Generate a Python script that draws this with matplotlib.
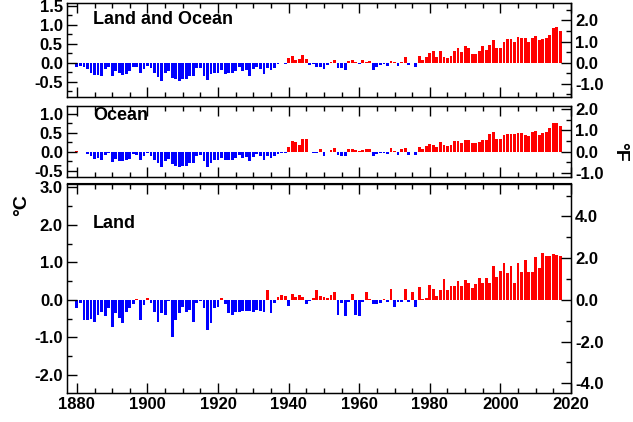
import numpy as np
import matplotlib
matplotlib.use('Agg')
import matplotlib.pyplot as pyp
from matplotlib.ticker import MultipleLocator, FormatStrFormatter

pyp.rcParams['font.family'] = ['Liberation Sans', 'DejaVu Sans']
pyp.rcParams['font.weight'] = 'bold'

years = np.arange(1880, 2018)

# annual anomalies (deg C)
land_ocean = [
  -0.12, -0.09, -0.10, -0.17, -0.28, -0.32, -0.31, -0.36, -0.17, -0.10,
  -0.35, -0.22, -0.27, -0.31, -0.30, -0.22, -0.11, -0.11, -0.27, -0.17,
  -0.08, -0.15, -0.28, -0.37, -0.47, -0.26, -0.22, -0.39, -0.43, -0.48,
  -0.43, -0.44, -0.36, -0.34, -0.15, -0.14, -0.36, -0.46, -0.30, -0.27,
  -0.27, -0.19, -0.29, -0.27, -0.27, -0.22, -0.11, -0.22, -0.20, -0.36,
  -0.16, -0.10, -0.16, -0.29, -0.13, -0.20, -0.15, -0.03, -0.01, -0.02,
  0.13, 0.19, 0.07, 0.09, 0.20, 0.09, -0.07, -0.03, -0.11, -0.11,
  -0.17, -0.07, 0.01, 0.08, -0.13, -0.14, -0.19, 0.05, 0.06, 0.03,
  -0.03, 0.06, 0.03, 0.05, -0.20, -0.11, -0.06, -0.02, -0.08, 0.05,
  0.03, -0.08, 0.01, 0.16, -0.07, -0.01, -0.10, 0.18, 0.07, 0.16,
  0.26, 0.32, 0.14, 0.31, 0.16, 0.12, 0.18, 0.32, 0.39, 0.27,
  0.45, 0.40, 0.22, 0.23, 0.31, 0.44, 0.33, 0.46, 0.61, 0.38,
  0.39, 0.54, 0.63, 0.62, 0.54, 0.68, 0.64, 0.66, 0.54, 0.64,
  0.71, 0.60, 0.63, 0.65, 0.74, 0.91, 0.95, 0.84]

ocean = [
  0.01, -0.01, -0.02, -0.06, -0.13, -0.19, -0.17, -0.22, -0.09, -0.05,
  -0.28, -0.20, -0.24, -0.24, -0.22, -0.19, -0.07, -0.08, -0.22, -0.13,
  -0.04, -0.12, -0.21, -0.31, -0.40, -0.24, -0.20, -0.32, -0.39, -0.41,
  -0.37, -0.39, -0.30, -0.29, -0.13, -0.09, -0.26, -0.40, -0.29, -0.22,
  -0.23, -0.16, -0.23, -0.23, -0.22, -0.18, -0.09, -0.17, -0.15, -0.26,
  -0.14, -0.07, -0.13, -0.22, -0.12, -0.16, -0.13, -0.06, -0.05, -0.03,
  0.12, 0.27, 0.24, 0.18, 0.32, 0.32, -0.02, -0.04, -0.03, 0.08,
  -0.13, 0.00, 0.05, 0.10, -0.10, -0.13, -0.13, 0.08, 0.08, 0.05,
  0.02, 0.05, 0.06, 0.06, -0.12, -0.07, -0.04, -0.03, -0.06, 0.10,
  0.01, -0.09, 0.07, 0.10, -0.09, -0.01, -0.09, 0.13, 0.07, 0.14,
  0.19, 0.17, 0.12, 0.26, 0.17, 0.14, 0.17, 0.29, 0.29, 0.22,
  0.31, 0.31, 0.22, 0.23, 0.24, 0.31, 0.30, 0.45, 0.51, 0.33,
  0.34, 0.43, 0.47, 0.47, 0.45, 0.50, 0.48, 0.43, 0.40, 0.51,
  0.53, 0.44, 0.48, 0.51, 0.61, 0.74, 0.75, 0.67]

land = [
  -0.22, -0.09, -0.53, -0.53, -0.52, -0.60, -0.40, -0.33, -0.44, -0.22,
  -0.71, -0.36, -0.49, -0.62, -0.31, -0.22, -0.11, 0.02, -0.53, -0.13,
  0.06, -0.09, -0.31, -0.58, -0.36, -0.40, -0.02, -1.00, -0.53, -0.36,
  -0.18, -0.31, -0.27, -0.58, -0.09, -0.02, -0.22, -0.80, -0.62, -0.22,
  -0.18, 0.05, -0.11, -0.36, -0.40, -0.31, -0.31, -0.29, -0.29, -0.29,
  -0.31, -0.27, -0.29, -0.31, 0.27, -0.34, -0.07, 0.09, 0.13, 0.11,
  -0.16, 0.15, 0.09, 0.13, 0.09, -0.11, -0.04, 0.04, 0.27, 0.10,
  0.08, 0.05, 0.12, 0.22, -0.40, -0.08, -0.42, -0.05, 0.15, -0.40,
  -0.42, -0.05, 0.20, 0.03, -0.10, -0.10, -0.08, 0.03, -0.05, 0.30,
  -0.18, -0.05, -0.05, 0.28, -0.05, 0.22, -0.20, 0.35, 0.02, 0.05,
  0.40, 0.29, 0.11, 0.27, 0.55, 0.27, 0.36, 0.36, 0.50, 0.38,
  0.52, 0.46, 0.31, 0.41, 0.57, 0.44, 0.57, 0.46, 0.91, 0.61,
  0.78, 0.98, 0.72, 0.91, 0.46, 0.98, 0.74, 1.05, 0.75, 0.75,
  1.14, 0.84, 1.26, 1.16, 1.18, 1.22, 1.20, 1.16]

panel_names = ['Land and Ocean', 'Ocean', 'Land']
panel_data = [land_ocean, ocean, land]
c_limits = [(-0.9, 1.57), (-0.67, 1.2), (-2.48, 3.1)]
c_major = [0.5, 0.5, 1.0]
c_minor = [0.25, 0.25, 0.5]
f_major = [1.0, 1.0, 2.0]
f_minor = [0.5, 0.5, 1.0]

# axes boxes in pixels (top, bottom) of a 633x422 figure
W, H = 633., 422.
x_left, x_right = 67., 571.
boxes = [(3., 97.), (106., 177.), (183.5, 393.)]
title_y = [0.82, 0.87, 0.81]

fig = pyp.figure(figsize=(W / 100, H / 100), dpi=100)

for k in range(3):
  top, bot = boxes[k]
  ax = fig.add_axes([x_left / W, 1 - bot / H, (x_right - x_left) / W, (bot - top) / H])
  vals = np.array(panel_data[k])
  cols = ['#ff0000' if v >= 0 else '#0000ff' for v in vals]
  ax.bar(years, vals, width=0.8, color=cols, linewidth=0)

  ax.set_xlim(1877.2, 2020)
  ax.set_ylim(*c_limits[k])
  ax.xaxis.set_major_locator(MultipleLocator(20))
  ax.xaxis.set_minor_locator(MultipleLocator(5))
  ax.yaxis.set_major_locator(MultipleLocator(c_major[k]))
  ax.yaxis.set_minor_locator(MultipleLocator(c_minor[k]))
  ax.yaxis.set_major_formatter(FormatStrFormatter('%.1f'))
  ax.tick_params(which='both', direction='in', top=True, right=False,
    width=1.0, labelsize=12, pad=3)
  ax.tick_params(which='major', length=7)
  ax.tick_params(which='minor', length=3.5)
  if k < 2:
    ax.tick_params(labelbottom=False)
  for sp in ax.spines.values():
    sp.set_linewidth(1.0)
  for lab in ax.get_xticklabels() + ax.get_yticklabels():
    lab.set_fontweight('bold')

  axf = ax.twinx()
  lo, hi = c_limits[k]
  axf.set_ylim(lo * 1.8, hi * 1.8)
  axf.yaxis.set_major_locator(MultipleLocator(f_major[k]))
  axf.yaxis.set_minor_locator(MultipleLocator(f_minor[k]))
  axf.yaxis.set_major_formatter(FormatStrFormatter('%.1f'))
  axf.tick_params(which='both', direction='in', width=1.0, labelsize=12, pad=3)
  axf.tick_params(which='major', length=7)
  axf.tick_params(which='minor', length=3.5)
  for lab in axf.get_yticklabels():
    lab.set_fontweight('bold')

  ax.text(0.052, title_y[k], panel_names[k], transform=ax.transAxes,
    fontsize=13, fontweight='bold', ha='left', va='center')

fig.text(22 / W, 1 - 205 / H, u'\u00b0C', rotation=90, fontsize=14,
  fontweight='bold', ha='center', va='center')
fig.text(620 / W, 1 - 152 / H, u'\u00b0F', rotation=270, fontsize=14,
  fontweight='bold', ha='center', va='center')

pyp.savefig('out.png', dpi=100)
pyp.close()
